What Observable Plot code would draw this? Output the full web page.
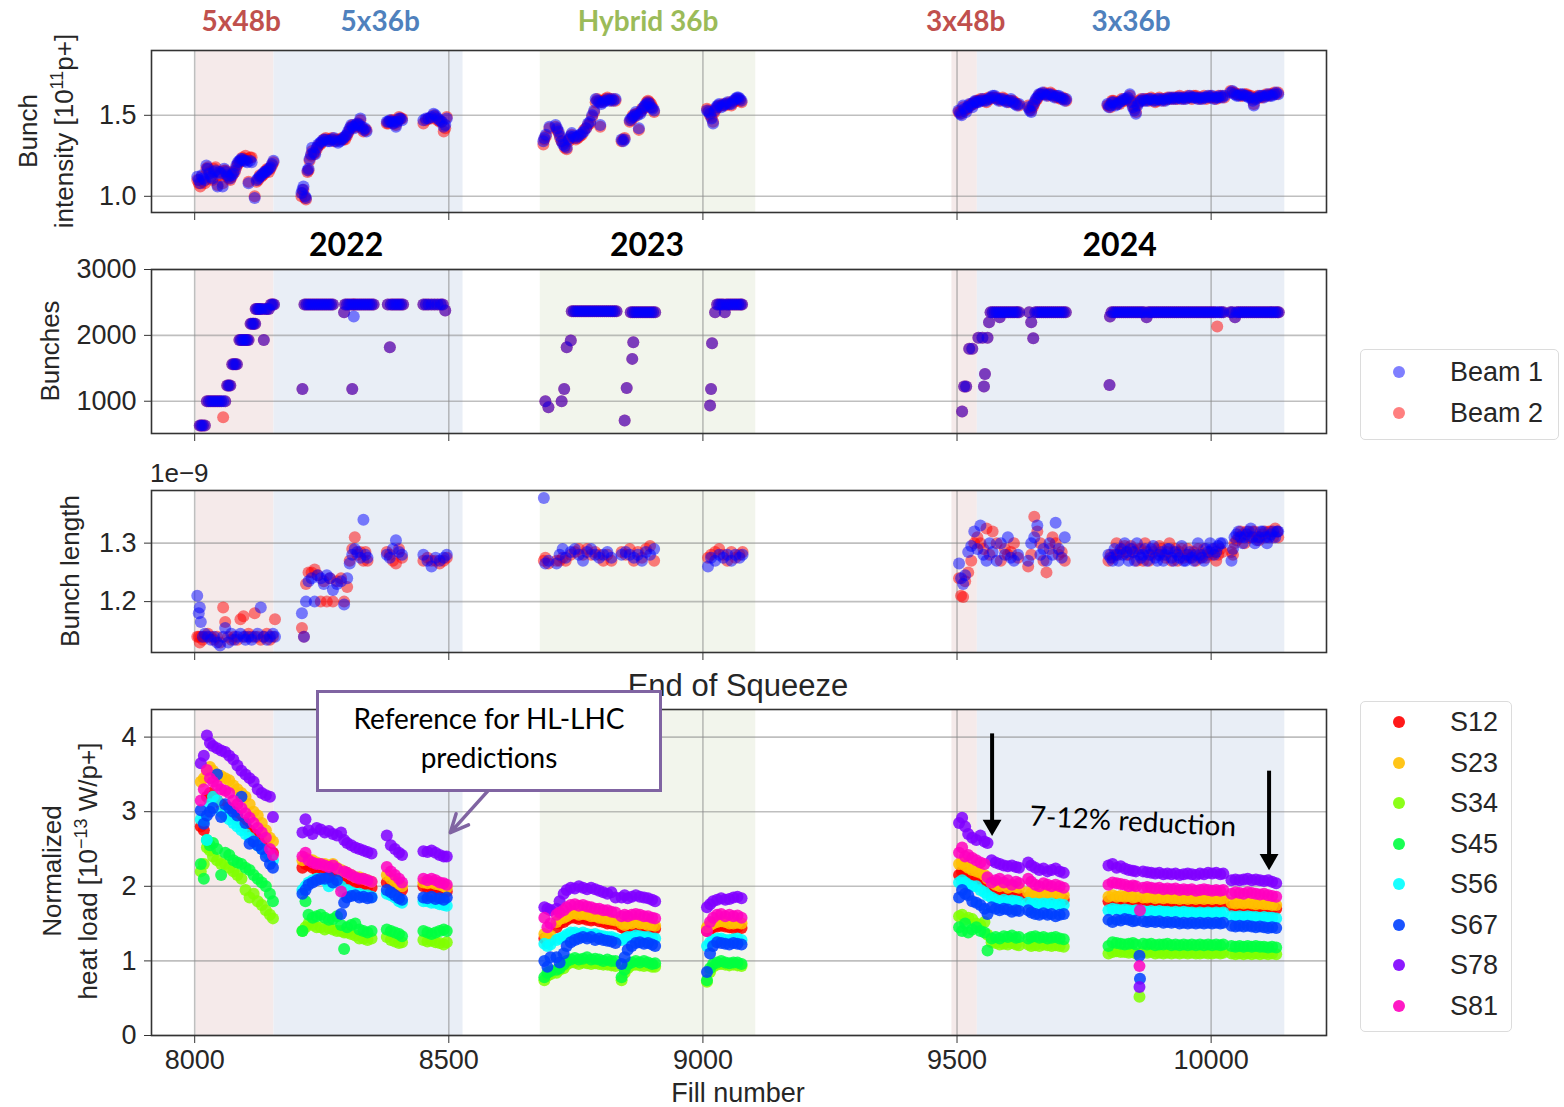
<!DOCTYPE html>
<html>
<head>
<meta charset="utf-8">
<script src="https://cdn.jsdelivr.net/npm/d3@7"></script>
<script src="https://cdn.jsdelivr.net/npm/@observablehq/plot@0.6"></script>
<style>
  body { margin: 0; background: #fff; }
  #fig { position: relative; width: 1564px; height: 1107px; overflow: hidden;
         font-family: "Liberation Sans", Arial, sans-serif; color: #262626; }
  .abs { position: absolute; white-space: nowrap; }
  .ylab { position: absolute; transform: translate(-50%, -50%) rotate(-90deg); white-space: nowrap;
          text-align: center; font-size: 26px; line-height: 36px; color: #262626; }
  .ylab sup { font-size: 18px; vertical-align: 10px; line-height: 0; }
  .cal { font-family: Lato, "Open Sans", sans-serif; }
  .legend { position: absolute; background: #fff; border: 1.5px solid #dcdcdc; border-radius: 5px; }
  .lg-dot { position: absolute; width: 12px; height: 12px; border-radius: 50%; transform: translate(-50%, -50%); }
  .lg-txt { position: absolute; transform: translateY(-50%); font-size: 27px; color: #262626; }
</style>
</head>
<body>
<div id="fig"></div>
<script>
// ---------- shared x axis ----------
const xDomain = [7915, 10227];
const xTicks = [8000, 8500, 9000, 9500, 10000];

// ---------- filling-scheme periods ----------
const spanKinds = ["5x48b", "5x36b", "Hybrid 36b", "3x48b", "3x36b"];
const spanStart = [8003, 8156, 8680, 9490, 9540];
const spanEnd   = [8156, 8528, 9104, 9540, 10145];

const years = ["2022", "2023", "2024"];

// ---------- bunch intensity [1e11 p+]: [fill, beam 1, beam 2] ----------
const intensityRows = [
  // 2022
  [8005,1.12,1.10],[8008,1.10,1.08],[8011,1.08,1.06],[8014,1.13,1.12],[8017,1.11,1.09],[8020,1.10,1.08],
  [8023,1.19,1.17],[8026,1.17,1.18],[8029,1.14,1.15],[8032,1.12,1.11],[8035,1.11,1.10],[8038,1.15,1.17],
  [8041,1.16,1.18],[8045,1.06,1.07],[8048,1.15,1.13],[8051,1.14,1.15],[8055,1.06,1.08],[8058,1.17,1.16],
  [8061,1.15,1.16],[8064,1.13,1.12],[8067,1.12,1.11],[8070,1.11,1.10],[8073,1.13,1.12],[8076,1.14,1.15],
  [8079,1.16,1.15],[8082,1.19,1.18],[8085,1.21,1.20],[8088,1.22,1.21],[8091,1.23,1.22],[8094,1.23,1.24],
  [8097,1.22,1.23],[8100,1.22,1.25],[8103,1.21,1.23],[8106,1.08,1.09],[8109,1.22,1.24],[8112,1.21,1.24],
  [8118,0.99,1.00],[8122,1.10,1.09],[8125,1.11,1.10],[8128,1.12,1.13],[8131,1.13,1.12],[8134,1.14,1.13],
  [8137,1.15,1.14],[8140,1.15,1.16],[8143,1.16,1.17],[8146,1.17,1.15],[8149,1.18,1.17],[8152,1.20,1.19],
  [8155,1.22,1.21],
  [8210,1.02,1.00],[8212,1.04,1.02],[8214,1.06,1.04],[8217,1.00,0.99],[8219,0.99,0.98],[8222,1.16,1.15],
  [8224,1.17,1.16],[8226,1.23,1.22],[8229,1.26,1.25],[8231,1.30,1.28],[8234,1.27,1.26],[8237,1.26,1.27],
  [8240,1.30,1.29],[8243,1.32,1.31],[8247,1.33,1.32],[8250,1.34,1.33],[8254,1.35,1.35],[8258,1.35,1.36],
  [8262,1.34,1.35],[8266,1.34,1.35],[8270,1.35,1.36],[8274,1.36,1.34],[8278,1.34,1.35],[8282,1.33,1.35],
  [8286,1.34,1.35],[8290,1.35,1.36],[8293,1.36,1.35],[8296,1.37,1.35],[8299,1.38,1.37],[8302,1.40,1.39],
  [8305,1.42,1.41],[8308,1.44,1.43],[8311,1.43,1.44],[8314,1.42,1.43],[8317,1.44,1.43],[8320,1.45,1.44],
  [8323,1.44,1.45],[8326,1.48,1.47],[8329,1.43,1.42],[8332,1.41,1.40],[8335,1.42,1.41],[8338,1.40,1.41],
  [8378,1.46,1.45],[8381,1.46,1.45],[8384,1.47,1.46],[8387,1.46,1.47],[8390,1.45,1.47],[8393,1.46,1.45],
  [8396,1.43,1.44],[8399,1.46,1.47],[8402,1.48,1.49],[8405,1.48,1.48],[8408,1.47,1.48],
  [8450,1.47,1.45],[8455,1.48,1.47],[8460,1.48,1.48],[8465,1.49,1.48],[8470,1.51,1.50],[8474,1.50,1.49],
  [8478,1.48,1.47],[8482,1.47,1.46],[8486,1.46,1.46],[8490,1.43,1.40],[8493,1.44,1.42],[8496,1.48,1.49],
  // 2023
  [8686,1.34,1.32],[8688,1.36,1.35],[8691,1.38,1.37],[8698,1.43,1.42],[8710,1.44,1.43],[8713,1.42,1.41],
  [8716,1.40,1.39],[8719,1.37,1.36],[8722,1.34,1.34],[8725,1.32,1.33],[8728,1.31,1.30],[8732,1.30,1.29],
  [8736,1.35,1.34],[8739,1.37,1.36],[8742,1.39,1.38],[8746,1.37,1.36],[8750,1.36,1.35],[8754,1.37,1.36],
  [8758,1.38,1.37],[8762,1.39,1.38],[8766,1.40,1.41],[8770,1.42,1.42],[8774,1.45,1.44],[8778,1.46,1.45],
  [8782,1.50,1.49],[8786,1.53,1.52],[8789,1.60,1.58],[8792,1.59,1.60],[8796,1.58,1.59],[8798,1.44,1.43],
  [8800,1.57,1.58],[8804,1.58,1.59],[8808,1.59,1.60],[8812,1.60,1.61],[8816,1.59,1.60],[8820,1.60,1.59],
  [8824,1.59,1.60],[8828,1.60,1.59],
  [8840,1.35,1.34],[8843,1.34,1.35],[8846,1.35,1.36],[8856,1.47,1.46],[8859,1.48,1.47],[8862,1.49,1.50],
  [8865,1.50,1.49],[8868,1.52,1.51],[8871,1.50,1.51],[8874,1.42,1.41],[8877,1.51,1.52],[8880,1.53,1.54],
  [8883,1.55,1.54],[8886,1.56,1.55],[8889,1.57,1.58],[8892,1.58,1.59],[8895,1.57,1.58],[8898,1.55,1.57],
  [8901,1.54,1.55],[8904,1.53,1.52],
  [9008,1.53,1.54],[9011,1.52,1.53],[9014,1.51,1.50],[9017,1.48,1.49],[9020,1.45,1.46],[9023,1.53,1.52],
  [9026,1.55,1.54],[9029,1.56,1.55],[9032,1.57,1.56],[9036,1.55,1.56],[9040,1.56,1.57],[9044,1.57,1.56],
  [9048,1.58,1.57],[9052,1.57,1.58],[9056,1.57,1.56],[9060,1.59,1.58],[9064,1.60,1.59],[9067,1.61,1.60],
  [9070,1.61,1.60],[9073,1.60,1.59],[9076,1.59,1.58],
  // 2024
  [9503,1.53,1.52],[9506,1.51,1.52],[9509,1.50,1.51],[9512,1.56,1.55],[9515,1.54,1.53],[9518,1.52,1.54],
  [9521,1.55,1.54],[9524,1.57,1.56],[9527,1.56,1.57],[9530,1.55,1.57],[9533,1.58,1.57],[9536,1.59,1.58],
  [9539,1.58,1.59],[9542,1.58,1.59],[9546,1.59,1.60],[9550,1.60,1.59],[9554,1.59,1.60],[9558,1.59,1.58],
  [9562,1.60,1.61],[9566,1.61,1.60],[9570,1.62,1.61],[9574,1.62,1.61],[9578,1.60,1.61],[9582,1.59,1.60],
  [9586,1.60,1.59],[9590,1.60,1.61],[9594,1.59,1.60],[9598,1.58,1.59],[9602,1.59,1.58],[9606,1.60,1.59],
  [9610,1.58,1.59],[9614,1.57,1.58],[9618,1.56,1.57],[9622,1.57,1.56],
  [9640,1.55,1.56],[9643,1.53,1.54],[9646,1.52,1.53],[9649,1.56,1.55],[9652,1.58,1.57],[9655,1.60,1.59],
  [9658,1.61,1.60],[9661,1.63,1.62],[9664,1.63,1.63],[9668,1.64,1.63],[9672,1.63,1.64],[9676,1.62,1.63],
  [9680,1.63,1.62],[9684,1.63,1.64],[9688,1.62,1.63],[9692,1.61,1.62],[9696,1.62,1.61],[9700,1.62,1.61],
  [9704,1.61,1.60],[9708,1.60,1.61],[9712,1.59,1.60],[9715,1.60,1.59],
  [9796,1.57,1.56],[9799,1.55,1.56],[9802,1.56,1.55],[9805,1.58,1.59],[9808,1.58,1.59],[9812,1.56,1.57],
  [9816,1.57,1.58],[9820,1.58,1.57],[9824,1.59,1.60],[9828,1.60,1.59],[9832,1.60,1.59],[9836,1.61,1.60],
  [9840,1.63,1.62],[9843,1.58,1.59],[9846,1.55,1.56],[9849,1.53,1.54],[9852,1.51,1.52],[9855,1.56,1.57],
  [9858,1.58,1.59],[9862,1.59,1.60],[9866,1.60,1.59],[9870,1.59,1.60],[9874,1.59,1.60],[9878,1.60,1.59],
  [9882,1.60,1.61],[9886,1.59,1.60],[9890,1.59,1.58],[9894,1.60,1.59],[9898,1.60,1.61],[9902,1.59,1.60],
  [9906,1.60,1.59],[9910,1.59,1.60],[9914,1.60,1.61],[9918,1.61,1.60],[9922,1.60,1.61],[9926,1.61,1.60],
  [9930,1.60,1.61],[9934,1.61,1.60],[9938,1.61,1.62],[9942,1.60,1.61],[9946,1.61,1.60],[9950,1.60,1.61],
  [9954,1.61,1.62],[9958,1.62,1.61],[9962,1.61,1.60],[9966,1.61,1.62],[9970,1.61,1.62],[9974,1.60,1.61],
  [9978,1.61,1.60],[9982,1.60,1.61],[9986,1.61,1.62],[9990,1.61,1.60],[9994,1.62,1.61],[9998,1.61,1.62],
  [10002,1.62,1.61],[10006,1.60,1.61],[10010,1.61,1.60],[10014,1.61,1.62],[10018,1.62,1.61],[10022,1.61,1.62],
  [10026,1.62,1.61],
  [10038,1.64,1.65],[10042,1.65,1.64],[10046,1.63,1.64],[10050,1.62,1.63],[10054,1.62,1.63],[10058,1.63,1.62],
  [10062,1.63,1.62],[10066,1.62,1.63],[10070,1.62,1.63],[10074,1.61,1.62],[10078,1.61,1.62],[10082,1.59,1.60],
  [10084,1.56,1.57],[10088,1.60,1.61],[10092,1.61,1.62],[10096,1.62,1.61],[10100,1.62,1.61],[10104,1.61,1.62],
  [10108,1.62,1.63],[10112,1.63,1.62],[10116,1.62,1.63],[10120,1.62,1.63],[10124,1.63,1.64],[10128,1.64,1.63],
  [10132,1.63,1.64]
];

// ---------- number of bunches: [fill, beam 1, beam 2] ----------
const bunchRows = [
  // 2022
  [8010,630,630],[8013,630,630],[8016,630,630],[8020,630,630],[8024,1000,1000],[8028,1000,1000],
  [8032,1000,1000],[8036,1000,1000],[8040,1000,1000],[8044,1000,1000],[8048,1000,1000],[8052,1000,1000],
  [8056,1000,757],[8060,1000,1000],[8064,1240,1240],[8067,1240,1240],[8070,1240,1240],[8074,1560,1560],
  [8077,1560,1560],[8080,1560,1560],[8083,1560,1560],[8088,1930,1930],[8091,1930,1930],[8094,1930,1930],
  [8097,1930,1930],[8100,1930,1930],[8103,1930,1930],[8106,1930,1930],[8110,2175,2175],[8113,2175,2175],
  [8116,2175,2175],[8119,2175,2175],[8120,2400,2400],[8123,2400,2400],[8126,2400,2400],[8129,2400,2400],
  [8132,2400,2400],[8136,1930,1930],[8138,2400,2400],[8142,2400,2400],[8146,2400,2400],[8150,2470,2470],
  [8153,2470,2470],[8156,2470,2470],
  [8212,1187,1187],[8216,2468,2468],[8220,2468,2468],[8224,2468,2468],[8228,2468,2468],[8232,2468,2468],
  [8236,2468,2468],[8240,2468,2468],[8244,2468,2468],[8248,2468,2468],[8252,2468,2468],[8256,2468,2468],
  [8260,2468,2468],[8264,2468,2468],[8268,2468,2468],[8272,2468,2468],
  [8294,2352,2352],[8296,2468,2468],[8300,2468,2468],[8304,2468,2468],[8308,2468,2468],[8310,1187,1187],
  [8312,2468,2468],[8313,2286,2468],[8316,2468,2468],[8320,2468,2468],[8324,2468,2468],[8328,2468,2468],
  [8332,2468,2468],[8336,2468,2468],[8340,2468,2468],[8344,2468,2468],[8348,2468,2468],[8352,2468,2468],
  [8380,2468,2468],[8384,1820,1820],[8386,2468,2468],[8390,2468,2468],[8394,2468,2468],[8398,2468,2468],
  [8402,2468,2468],[8406,2468,2468],[8410,2468,2468],
  [8450,2468,2468],[8455,2468,2468],[8460,2468,2468],[8466,2468,2468],[8472,2468,2468],[8478,2468,2468],
  [8484,2468,2468],[8488,2468,2468],[8493,2377,2377],
  // 2023
  [8690,1000,1000],[8696,910,910],[8722,1000,1000],[8727,1187,1187],[8732,1820,1820],[8740,1921,1921],
  [8742,2367,2367],[8746,2367,2367],[8750,2367,2367],[8754,2367,2367],[8758,2367,2367],[8762,2367,2367],
  [8766,2367,2367],[8770,2367,2367],[8774,2367,2367],[8778,2367,2367],[8782,2367,2367],[8786,2367,2367],
  [8790,2367,2367],[8794,2367,2367],[8798,2367,2367],[8802,2367,2367],[8806,2367,2367],[8810,2367,2367],
  [8814,2367,2367],[8818,2367,2367],[8822,2367,2367],[8826,2367,2367],[8830,2367,2367],
  [8846,706,706],[8850,1202,1202],[8858,2352,2352],[8861,1643,1643],[8863,1896,1896],[8862,2352,2352],
  [8866,2352,2352],[8870,2352,2352],[8874,2352,2352],[8878,2352,2352],[8882,2352,2352],[8886,2352,2352],
  [8890,2352,2352],[8894,2352,2352],[8898,2352,2352],[8902,2352,2352],[8906,2352,2352],
  [9014,934,934],[9016,1187,1187],[9018,1881,1881],[9024,2352,2352],[9028,2468,2468],[9032,2468,2468],
  [9036,2468,2468],[9040,2468,2468],[9043,2352,2352],[9046,2468,2468],[9050,2468,2468],[9054,2468,2468],
  [9058,2468,2468],[9062,2468,2468],[9066,2468,2468],[9070,2468,2468],[9074,2468,2468],[9077,2468,2468],
  // 2024
  [9510,843,843],[9514,1223,1223],[9518,1223,1223],[9524,1795,1795],[9530,1795,1795],[9542,1962,1962],
  [9550,1962,1962],[9553,1223,1223],[9555,1415,1415],[9560,1962,1962],[9563,2200,2200],[9566,2352,2352],
  [9570,2352,2352],[9574,2352,2352],[9578,2352,2352],[9582,2352,2352],[9584,2276,2276],[9586,2352,2352],
  [9590,2352,2352],[9594,2352,2352],[9598,2352,2352],[9602,2352,2352],[9606,2352,2352],[9610,2352,2352],
  [9614,2352,2352],[9618,2352,2352],[9622,2352,2352],
  [9642,2352,2352],[9646,2200,2200],[9650,1957,1957],[9654,2352,2352],[9658,2352,2352],[9662,2352,2352],
  [9666,2352,2352],[9670,2352,2352],[9674,2352,2352],[9678,2352,2352],[9682,2352,2352],[9686,2352,2352],
  [9690,2352,2352],[9694,2352,2352],[9698,2352,2352],[9702,2352,2352],[9706,2352,2352],[9710,2352,2352],
  [9714,2352,2352],
  [9800,1248,1248],[9801,2286,2286],[9804,2352,2352],[9808,2352,2352],[9812,2352,2352],[9816,2352,2352],
  [9820,2352,2352],[9824,2352,2352],[9828,2352,2352],[9832,2352,2352],[9836,2352,2352],[9840,2352,2352],
  [9844,2352,2352],[9848,2352,2352],[9852,2352,2352],[9856,2352,2352],[9860,2352,2352],[9864,2352,2352],
  [9868,2352,2352],[9873,2276,2276],[9876,2352,2352],[9880,2352,2352],[9884,2352,2352],[9888,2352,2352],
  [9892,2352,2352],[9896,2352,2352],[9900,2352,2352],[9904,2352,2352],[9908,2352,2352],[9912,2352,2352],
  [9916,2352,2352],[9920,2352,2352],[9924,2352,2352],[9928,2352,2352],[9932,2352,2352],[9936,2352,2352],
  [9940,2352,2352],[9944,2352,2352],[9948,2352,2352],[9952,2352,2352],[9956,2352,2352],[9960,2352,2352],
  [9964,2352,2352],[9968,2352,2352],[9972,2352,2352],[9976,2352,2352],[9980,2352,2352],[9984,2352,2352],
  [9988,2352,2352],[9992,2352,2352],[9996,2352,2352],[10000,2352,2352],[10004,2352,2352],[10008,2352,2352],
  [10012,2352,2134],[10016,2352,2352],[10020,2352,2352],[10024,2352,2352],
  [10038,2352,2352],[10042,2352,2352],[10047,2276,2276],[10050,2352,2352],[10054,2352,2352],[10058,2352,2352],
  [10062,2352,2352],[10066,2352,2352],[10070,2352,2352],[10074,2352,2352],[10078,2352,2352],[10082,2352,2352],
  [10086,2352,2352],[10090,2352,2352],[10094,2352,2352],[10098,2352,2352],[10102,2352,2352],[10106,2352,2352],
  [10110,2352,2352],[10114,2352,2352],[10118,2352,2352],[10122,2352,2352],[10126,2352,2352],[10130,2352,2352],
  [10133,2352,2352]
];

// ---------- bunch length [1e-9 s]: [fill, beam 1, beam 2] ----------
const lengthRows = [
  [8005,1.21,1.14],[8008,1.18,1.14],[8010,1.19,1.13],[8012,1.165,1.14],[8016,1.14,1.135],[8020,1.145,1.14],
  [8026,1.14,1.145],[8032,1.135,1.14],[8038,1.14,1.135],[8044,1.13,1.14],[8050,1.125,1.13],[8056,1.14,1.19],
  [8060,1.155,1.165],[8066,1.13,1.14],[8072,1.145,1.135],[8078,1.135,1.14],[8084,1.14,1.135],[8090,1.145,1.17],
  [8096,1.14,1.175],[8100,1.135,1.14],[8106,1.14,1.145],[8112,1.135,1.14],[8118,1.14,1.18],[8124,1.145,1.14],
  [8130,1.19,1.135],[8136,1.14,1.14],[8142,1.135,1.145],[8148,1.14,1.135],[8154,1.145,1.14],[8158,1.14,1.17],
  [8211,1.18,1.155],[8215,1.14,1.14],[8219,1.20,1.23],[8224,1.235,1.25],[8230,1.24,1.25],[8236,1.20,1.255],
  [8242,1.245,1.245],[8248,1.24,1.20],[8254,1.23,1.235],[8260,1.245,1.20],[8266,1.24,1.24],[8272,1.22,1.20],
  [8280,1.23,1.235],[8288,1.235,1.24],[8294,1.195,1.20],[8300,1.24,1.225],[8305,1.265,1.27],[8310,1.28,1.29],
  [8315,1.29,1.31],[8320,1.285,1.28],[8326,1.275,1.285],[8332,1.34,1.27],[8336,1.28,1.285],[8340,1.275,1.27],
  [8378,1.28,1.285],[8384,1.275,1.28],[8390,1.29,1.27],[8396,1.305,1.265],[8402,1.285,1.29],[8408,1.28,1.275],
  [8450,1.28,1.27],[8458,1.27,1.275],[8466,1.26,1.27],[8474,1.275,1.27],[8482,1.27,1.265],[8490,1.275,1.27],
  [8496,1.28,1.275],
  [8687,1.377,1.27],[8690,1.265,1.275],[8696,1.27,1.265],[8712,1.265,1.27],[8718,1.28,1.27],[8724,1.29,1.275],
  [8730,1.275,1.27],[8740,1.285,1.28],[8748,1.29,1.285],[8756,1.28,1.29],[8764,1.27,1.28],[8772,1.285,1.29],
  [8780,1.29,1.28],[8788,1.28,1.285],[8796,1.275,1.28],[8804,1.28,1.27],[8812,1.285,1.28],[8820,1.275,1.27],
  [8840,1.28,1.285],[8848,1.285,1.28],[8856,1.28,1.29],[8864,1.275,1.27],[8872,1.28,1.285],[8880,1.27,1.275],
  [8888,1.285,1.29],[8896,1.28,1.295],[8904,1.29,1.27],
  [9010,1.26,1.275],[9016,1.275,1.28],[9024,1.27,1.285],[9032,1.28,1.29],[9040,1.275,1.28],[9048,1.28,1.27],
  [9056,1.27,1.285],[9064,1.28,1.275],[9072,1.275,1.28],[9078,1.28,1.285],
  [9504,1.265,1.24],[9508,1.24,1.21],[9512,1.23,1.208],[9516,1.245,1.235],[9522,1.285,1.25],[9528,1.295,1.27],
  [9534,1.32,1.30],[9540,1.29,1.31],[9546,1.33,1.30],[9552,1.28,1.29],[9558,1.27,1.325],[9564,1.30,1.28],
  [9570,1.285,1.32],[9578,1.27,1.30],[9586,1.30,1.27],[9594,1.28,1.29],[9600,1.31,1.28],[9606,1.275,1.285],
  [9612,1.27,1.30],[9620,1.28,1.275],
  [9640,1.27,1.26],[9646,1.30,1.28],[9652,1.31,1.345],[9658,1.33,1.32],[9664,1.28,1.30],[9670,1.29,1.27],
  [9676,1.27,1.25],[9682,1.30,1.29],[9688,1.28,1.31],[9694,1.335,1.30],[9700,1.29,1.28],[9706,1.275,1.285],
  [9712,1.31,1.27],
  [9798,1.28,1.27],[9802,1.275,1.28],[9806,1.27,1.275],[9810,1.29,1.28],[9814,1.28,1.30],[9818,1.27,1.28],
  [9822,1.29,1.285],[9826,1.28,1.29],[9830,1.30,1.295],[9834,1.285,1.28],[9838,1.27,1.28],[9842,1.29,1.295],
  [9846,1.285,1.29],[9850,1.27,1.285],[9854,1.30,1.27],[9858,1.28,1.29],[9862,1.275,1.29],[9866,1.28,1.27],
  [9870,1.29,1.30],[9874,1.27,1.285],[9878,1.28,1.27],[9882,1.29,1.28],[9886,1.295,1.285],[9890,1.275,1.29],
  [9894,1.27,1.28],[9898,1.28,1.295],[9902,1.285,1.29],[9906,1.27,1.28],[9910,1.28,1.275],[9914,1.29,1.285],
  [9918,1.29,1.30],[9922,1.275,1.27],[9926,1.27,1.285],[9930,1.285,1.29],[9934,1.28,1.27],[9938,1.275,1.285],
  [9942,1.295,1.29],[9946,1.27,1.275],[9950,1.27,1.28],[9954,1.28,1.29],[9958,1.285,1.275],[9962,1.275,1.28],
  [9966,1.27,1.285],[9970,1.28,1.27],[9974,1.30,1.29],[9978,1.28,1.275],[9982,1.275,1.28],[9986,1.27,1.29],
  [9990,1.29,1.275],[9994,1.285,1.28],[9998,1.30,1.285],[10002,1.29,1.28],[10006,1.28,1.29],[10010,1.285,1.27],
  [10014,1.295,1.28],[10018,1.30,1.29],[10022,1.30,1.285],
  [10040,1.27,1.285],[10043,1.29,1.28],[10046,1.31,1.30],[10050,1.315,1.305],[10054,1.32,1.31],[10058,1.31,1.32],
  [10062,1.30,1.315],[10066,1.31,1.30],[10070,1.315,1.32],[10074,1.32,1.31],[10078,1.325,1.31],[10082,1.31,1.32],
  [10086,1.30,1.32],[10090,1.305,1.31],[10094,1.31,1.305],[10098,1.32,1.31],[10102,1.32,1.315],[10106,1.31,1.32],
  [10110,1.30,1.31],[10114,1.31,1.32],[10118,1.315,1.32],[10122,1.32,1.31],[10126,1.31,1.325],[10130,1.32,1.32],
  [10132,1.32,1.31]
];

// ---------- normalized heat load [1e-13 W/p+] per arc sector ----------
const sectors = ["S12", "S23", "S34", "S45", "S56", "S67", "S78", "S81"];
const sectorColors = ["#ff0000", "#ffbf00", "#80ff00", "#00ff40", "#00ffff", "#0040ff", "#8000ff", "#ff00bf"];
// [fill, S12, S23, S34, S45, S56, S67, S78, S81]
const heatRows = [
  [8012,2.80,3.40,2.20,2.30,2.90,3.02,3.65,3.15],[8018,2.75,3.45,2.30,2.10,2.88,2.84,3.75,3.30],
  [8024,3.20,3.55,2.52,2.62,2.62,2.95,4.02,3.56],[8030,3.25,3.60,2.48,2.55,3.10,3.00,3.92,3.45],
  [8036,3.20,3.55,2.40,2.58,3.20,3.05,3.88,3.40],[8044,3.15,3.50,2.35,2.50,3.15,3.50,3.85,3.35],
  [8052,3.10,3.48,2.30,2.15,3.00,2.93,3.82,3.30],[8060,3.05,3.45,2.30,2.45,2.95,3.10,3.80,3.28],
  [8068,3.00,3.42,2.25,2.42,2.90,3.05,3.75,3.25],[8076,2.95,3.35,2.20,2.35,2.85,3.00,3.70,3.15],
  [8084,2.90,3.30,2.15,2.32,2.80,2.95,3.62,3.10],[8092,2.85,3.25,2.10,2.30,2.75,3.20,3.55,3.05],
  [8100,2.80,3.20,1.95,2.25,2.70,2.85,3.50,2.98],[8108,2.75,3.10,1.85,2.22,2.65,2.57,3.45,2.92],
  [8116,2.70,3.00,1.90,2.15,2.60,2.60,3.40,2.85],[8124,2.65,2.95,1.80,2.10,2.55,2.55,3.30,2.78],
  [8132,2.60,2.85,1.75,2.05,2.50,2.50,3.25,2.72],[8140,2.55,2.75,1.68,2.00,2.45,2.40,3.22,2.65],
  [8148,2.48,2.65,1.62,1.90,2.40,2.30,3.20,2.50],[8154,2.45,2.60,1.57,1.80,2.35,2.25,2.93,2.42],
  [8212,2.25,2.35,1.40,1.40,1.95,1.90,2.72,2.40],[8218,2.30,2.38,1.45,1.80,2.00,1.95,2.90,2.45],
  [8224,2.28,2.36,1.50,1.62,2.05,2.02,2.75,2.35],[8232,2.25,2.35,1.48,1.58,2.08,2.05,2.70,2.32],
  [8240,2.22,2.32,1.45,1.60,2.10,2.08,2.78,2.30],[8248,2.20,2.30,1.45,1.62,2.10,2.10,2.76,2.30],
  [8256,2.20,2.30,1.42,1.58,2.08,2.10,2.72,2.28],[8264,2.18,2.28,1.44,1.55,2.00,2.12,2.74,2.26],
  [8272,2.20,2.30,1.42,1.56,2.05,2.05,2.70,2.28],[8280,2.15,2.25,1.40,1.60,2.05,2.08,2.68,2.24],
  [8288,2.05,2.22,1.40,1.48,2.00,1.63,2.72,1.93],[8294,2.08,2.20,1.38,1.16,1.90,1.78,2.62,2.20],
  [8300,2.10,2.18,1.38,1.45,1.95,1.85,2.58,2.18],[8308,2.08,2.15,1.36,1.48,1.92,1.87,2.55,2.15],
  [8316,2.05,2.12,1.34,1.50,1.90,1.88,2.52,2.12],[8324,2.05,2.12,1.30,1.42,1.90,1.85,2.50,2.10],
  [8332,2.02,2.10,1.30,1.40,1.88,1.86,2.48,2.10],[8340,2.00,2.08,1.28,1.38,1.88,1.84,2.46,2.08],
  [8348,1.98,2.06,1.30,1.40,1.86,1.85,2.44,2.06],
  [8378,2.05,2.15,1.32,1.42,1.90,1.95,2.68,2.26],[8386,2.02,2.10,1.28,1.40,1.88,1.92,2.55,2.20],
  [8394,2.00,2.06,1.26,1.38,1.85,1.88,2.50,2.15],[8402,1.98,2.03,1.24,1.36,1.80,1.84,2.45,2.10],
  [8408,1.95,2.00,1.25,1.33,1.78,1.82,2.42,2.05],
  [8450,2.00,2.05,1.28,1.40,1.80,1.85,2.47,2.10],[8458,1.98,2.04,1.26,1.38,1.80,1.84,2.46,2.08],
  [8466,1.98,2.05,1.27,1.36,1.78,1.86,2.48,2.10],[8474,1.97,2.03,1.25,1.38,1.78,1.83,2.45,2.08],
  [8482,1.96,2.02,1.24,1.40,1.76,1.84,2.42,2.05],[8490,1.95,2.00,1.22,1.42,1.75,1.82,2.40,2.04],
  [8496,1.93,1.98,1.25,1.40,1.74,1.85,2.40,2.02],
  [8688,1.30,1.36,0.74,0.78,1.23,1.00,1.72,1.58],[8694,1.25,1.32,0.80,0.84,1.20,0.92,1.70,1.45],
  [8700,1.28,1.34,0.82,0.86,1.22,1.05,1.68,1.50],[8712,1.45,1.52,0.84,0.88,1.28,1.05,1.70,1.62],
  [8718,1.50,1.56,0.88,0.90,1.30,0.98,1.80,1.65],[8726,1.52,1.58,0.90,0.95,1.32,1.10,1.90,1.68],
  [8732,1.55,1.60,0.95,1.00,1.35,1.20,1.95,1.72],[8740,1.58,1.63,0.98,1.02,1.38,1.25,1.98,1.75],
  [8748,1.58,1.64,0.98,1.04,1.38,1.28,1.97,1.76],[8756,1.56,1.62,0.96,1.02,1.36,1.30,2.00,1.74],
  [8764,1.57,1.63,0.98,1.03,1.38,1.32,1.98,1.75],[8772,1.55,1.62,0.97,1.05,1.36,1.30,1.96,1.73],
  [8780,1.54,1.60,0.96,1.02,1.35,1.32,1.98,1.72],[8788,1.55,1.60,0.97,1.03,1.36,1.28,1.96,1.70],
  [8796,1.53,1.58,0.96,1.02,1.34,1.30,1.94,1.70],[8804,1.52,1.57,0.95,1.00,1.33,1.28,1.92,1.68],
  [8812,1.50,1.56,0.95,1.02,1.32,1.27,1.90,1.68],[8820,1.50,1.55,0.94,1.00,1.32,1.26,1.92,1.66],
  [8828,1.49,1.54,0.93,1.00,1.30,1.24,1.85,1.65],
  [8840,1.45,1.50,0.74,0.78,1.28,0.96,1.85,1.60],[8846,1.43,1.48,0.84,0.88,1.30,1.05,1.88,1.62],
  [8852,1.44,1.50,0.90,0.95,1.32,1.15,1.84,1.60],[8860,1.45,1.50,0.94,0.98,1.32,1.20,1.86,1.62],
  [8868,1.46,1.52,0.95,1.00,1.34,1.24,1.88,1.63],[8876,1.45,1.50,0.94,0.98,1.33,1.25,1.86,1.62],
  [8884,1.44,1.50,0.93,1.00,1.32,1.23,1.85,1.60],[8892,1.43,1.48,0.94,0.98,1.32,1.24,1.84,1.60],
  [8900,1.42,1.48,0.92,0.96,1.30,1.22,1.82,1.58],[8906,1.43,1.47,0.92,0.97,1.30,1.20,1.80,1.57],
  [9008,1.40,1.45,0.72,0.74,1.20,0.85,1.72,1.40],[9014,1.42,1.48,0.85,0.90,1.25,1.10,1.76,1.52],
  [9020,1.45,1.50,0.92,0.96,1.28,1.20,1.80,1.58],[9028,1.46,1.52,0.95,0.98,1.30,1.25,1.82,1.62],
  [9036,1.47,1.53,0.96,1.00,1.30,1.24,1.84,1.63],[9044,1.46,1.52,0.95,0.98,1.28,1.23,1.82,1.60],
  [9052,1.45,1.50,0.94,0.97,1.28,1.22,1.83,1.62],[9060,1.44,1.50,0.95,0.98,1.29,1.24,1.85,1.60],
  [9068,1.45,1.51,0.94,0.98,1.30,1.23,1.86,1.61],[9076,1.44,1.50,0.93,0.96,1.28,1.22,1.84,1.58],
  [9504,2.15,2.30,1.60,1.45,2.05,1.85,2.85,2.45],[9510,2.20,2.32,1.62,1.40,2.08,1.95,2.92,2.52],
  [9516,2.18,2.28,1.55,1.50,2.05,1.90,2.80,2.40],[9522,2.15,2.25,1.58,1.38,2.02,1.88,2.70,2.42],
  [9530,2.12,2.22,1.56,1.42,2.00,1.80,2.65,2.38],[9538,2.10,2.20,1.50,1.45,2.00,1.78,2.62,2.35],
  [9546,2.08,2.18,1.48,1.40,1.95,1.75,2.68,2.32],[9554,2.05,2.15,1.52,1.38,1.92,1.70,2.60,2.30],
  [9560,2.00,2.10,1.35,1.14,1.88,1.63,2.58,2.12],[9568,1.95,2.05,1.25,1.30,1.85,1.72,2.35,2.05],
  [9576,1.92,2.02,1.24,1.32,1.82,1.70,2.32,2.08],[9584,1.90,2.00,1.22,1.30,1.80,1.68,2.30,2.10],
  [9592,1.92,2.02,1.23,1.33,1.82,1.70,2.28,2.05],[9600,1.88,1.98,1.22,1.32,1.80,1.69,2.27,2.08],
  [9608,1.90,2.00,1.24,1.34,1.81,1.66,2.28,2.02],[9616,1.89,1.99,1.22,1.31,1.80,1.68,2.26,2.06],
  [9622,1.88,1.98,1.21,1.32,1.79,1.67,2.25,2.04],
  [9640,1.85,1.92,1.22,1.30,1.78,1.68,2.32,2.10],[9646,1.84,1.90,1.20,1.32,1.76,1.65,2.28,2.06],
  [9654,1.83,1.90,1.21,1.33,1.77,1.63,2.25,2.02],[9662,1.82,1.89,1.20,1.31,1.76,1.62,2.22,2.00],
  [9670,1.83,1.90,1.22,1.32,1.77,1.64,2.24,2.04],[9678,1.82,1.90,1.21,1.30,1.76,1.62,2.20,2.02],
  [9686,1.83,1.91,1.20,1.31,1.77,1.63,2.22,2.00],[9694,1.82,1.89,1.21,1.32,1.75,1.60,2.24,2.02],
  [9702,1.83,1.90,1.20,1.30,1.76,1.62,2.20,2.00],[9710,1.82,1.88,1.19,1.29,1.75,1.63,2.18,1.98],
  [9798,1.80,1.86,1.10,1.20,1.68,1.55,2.28,2.02],[9806,1.82,1.88,1.12,1.25,1.70,1.52,2.30,2.05],
  [9814,1.81,1.86,1.13,1.24,1.69,1.55,2.25,2.04],[9822,1.80,1.87,1.12,1.23,1.68,1.54,2.27,2.03],
  [9830,1.81,1.86,1.12,1.22,1.69,1.56,2.24,2.02],[9838,1.82,1.87,1.11,1.23,1.68,1.55,2.22,2.00],
  [9846,1.80,1.85,1.12,1.24,1.67,1.53,2.21,2.01],[9852,1.81,1.86,1.10,1.22,1.68,1.54,2.20,2.00],
  [9859,null,null,0.52,null,null,1.07,0.65,0.93],[9860,null,null,null,null,null,0.76,null,1.68],
  [9866,1.80,1.85,1.12,1.23,1.67,1.53,2.20,1.98],[9874,1.79,1.85,1.11,1.22,1.66,1.52,2.19,1.99],
  [9882,1.80,1.86,1.12,1.23,1.67,1.53,2.18,1.98],[9890,1.79,1.84,1.10,1.21,1.66,1.52,2.17,1.97],
  [9898,1.80,1.85,1.11,1.22,1.67,1.53,2.18,1.98],[9906,1.78,1.84,1.10,1.22,1.66,1.51,2.16,1.96],
  [9914,1.79,1.85,1.11,1.23,1.66,1.52,2.17,1.97],[9922,1.78,1.84,1.10,1.21,1.65,1.51,2.16,1.96],
  [9930,1.79,1.84,1.11,1.22,1.66,1.52,2.17,1.97],[9938,1.78,1.83,1.10,1.21,1.65,1.50,2.15,1.95],
  [9946,1.79,1.84,1.11,1.22,1.66,1.51,2.16,1.96],[9954,1.78,1.83,1.10,1.21,1.65,1.50,2.17,1.95],
  [9962,1.78,1.84,1.11,1.22,1.65,1.51,2.16,1.96],[9970,1.77,1.83,1.10,1.21,1.64,1.50,2.15,1.94],
  [9978,1.78,1.84,1.10,1.22,1.65,1.51,2.17,1.95],[9986,1.77,1.83,1.11,1.21,1.64,1.50,2.16,1.96],
  [9994,1.78,1.84,1.10,1.22,1.65,1.51,2.18,1.95],[10002,1.77,1.83,1.10,1.21,1.64,1.50,2.17,1.94],
  [10010,1.78,1.84,1.11,1.22,1.65,1.51,2.18,1.95],[10018,1.77,1.83,1.10,1.21,1.64,1.50,2.16,1.94],
  [10024,1.78,1.84,1.11,1.22,1.65,1.51,2.17,1.95],
  [10040,1.73,1.78,1.10,1.20,1.60,1.47,2.08,1.90],[10048,1.72,1.77,1.09,1.19,1.59,1.46,2.09,1.92],
  [10056,1.73,1.78,1.10,1.20,1.60,1.47,2.08,1.91],[10064,1.72,1.77,1.09,1.19,1.59,1.46,2.09,1.90],
  [10072,1.73,1.78,1.10,1.20,1.60,1.47,2.10,1.92],[10080,1.72,1.77,1.09,1.19,1.59,1.46,2.08,1.91],
  [10088,1.72,1.76,1.10,1.20,1.59,1.45,2.09,1.90],[10096,1.71,1.77,1.09,1.19,1.58,1.46,2.08,1.89],
  [10104,1.72,1.76,1.10,1.19,1.59,1.45,2.07,1.90],[10112,1.71,1.76,1.09,1.18,1.58,1.44,2.08,1.88],
  [10120,1.70,1.75,1.10,1.19,1.58,1.45,2.06,1.87],[10128,1.70,1.75,1.09,1.18,1.57,1.44,2.04,1.86]
];

// ---------- styling ----------
const W = 1564;
const FRAME_LEFT = 151, FRAME_RIGHT = 1326;
const shade = {"5x48b": "#f5eaea", "5x36b": "#e9eef6", "Hybrid 36b": "#f2f5ec", "3x48b": "#f5eaea", "3x36b": "#e9eef6"};
const labelInk = {"5x48b": "#c0504d", "5x36b": "#4f81bd", "Hybrid 36b": "#9bbb59", "3x48b": "#c0504d", "3x36b": "#4f81bd"};
// horizontal offset of each scheme name from the middle of its period, in fills
const labelNudge = {"5x48b": 12, "5x36b": 23, "Hybrid 36b": 0, "3x48b": 2, "3x36b": 0};
const BEAM1 = "#0000ff", BEAM2 = "#ff0000";
const spans = spanKinds.map((k, i) => ({kind: k, start: spanStart[i], end: spanEnd[i]}));

const fig = document.getElementById("fig");

function addPanel({top, marginTop, innerHeight, marginBottom, yDomain, yTicks, yFormat, marks, showXLabels = false, extra = []}) {
  const svg = Plot.plot({
    width: W,
    height: marginTop + innerHeight + marginBottom,
    marginLeft: FRAME_LEFT, marginRight: W - FRAME_RIGHT, marginTop, marginBottom,
    style: {background: "transparent", overflow: "visible", fontFamily: "Liberation Sans, Arial, sans-serif", fontSize: "27px", color: "#262626"},
    x: {domain: xDomain},
    y: {domain: yDomain},
    color: {domain: sectors, range: sectorColors},
    marks: [
      Plot.rect(spans, {x1: "start", x2: "end", y1: () => yDomain[0], y2: () => yDomain[1], fill: d => shade[d.kind]}),
      Plot.gridX(xTicks, {stroke: "#8a8a8a", strokeOpacity: 0.55, strokeWidth: 1.6}),
      Plot.gridY(yTicks, {stroke: "#8a8a8a", strokeOpacity: 0.55, strokeWidth: 1.6}),
      ...marks,
      Plot.frame({stroke: "#333", strokeWidth: 1.6}),
      Plot.axisY(yTicks, {tickSize: 7, tickPadding: 8, tickFormat: yFormat, label: null, fontSize: 27, stroke: "#333"}),
      Plot.axisX(xTicks, {tickSize: 8, tickPadding: 6, tickFormat: showXLabels ? d => String(d) : () => "", label: null, fontSize: 27, stroke: "#333"}),
      ...extra
    ]
  });
  svg.style.position = "absolute";
  svg.style.left = "0px";
  svg.style.top = top + "px";
  fig.appendChild(svg);
}

const beamDots = rows => [
  Plot.dot(rows, {x: d => d[0], y: d => d[2], r: 6, fill: BEAM2, fillOpacity: 0.5}),
  Plot.dot(rows, {x: d => d[0], y: d => d[1], r: 6, fill: BEAM1, fillOpacity: 0.5})
];

// Panel 1: bunch intensity, with the filling-scheme names above
addPanel({
  top: 0, marginTop: 50, innerHeight: 162, marginBottom: 30,
  yDomain: [0.90, 1.90], yTicks: [1.0, 1.5], yFormat: d3.format(".1f"),
  marks: beamDots(intensityRows),
  extra: [
    Plot.text(spans, {x: d => (d.start + d.end) / 2 + labelNudge[d.kind], text: "kind",
      frameAnchor: "top", lineAnchor: "middle", dy: -28,
      fill: d => labelInk[d.kind], fontSize: 28, fontWeight: "bold", fontFamily: "Lato, Open Sans, sans-serif"})
  ]
});

// Panel 2: number of bunches, with the run years above
const yearAt = [8298, 8890, 9820];
addPanel({
  top: 225, marginTop: 44, innerHeight: 164, marginBottom: 20,
  yDomain: [510, 3000], yTicks: [1000, 2000, 3000], yFormat: d => String(d),
  marks: beamDots(bunchRows),
  extra: [
    Plot.text(years, {x: (d, i) => yearAt[i], text: d => d, frameAnchor: "top", lineAnchor: "middle", dy: -24,
      fill: "#000", fontSize: 32, fontWeight: "bold", fontFamily: "Lato, Open Sans, sans-serif"})
  ]
});

// Panel 3: bunch length (units of 1e-9 s)
addPanel({
  top: 452, marginTop: 38, innerHeight: 162, marginBottom: 20,
  yDomain: [1.113, 1.390], yTicks: [1.2, 1.3], yFormat: d3.format(".1f"),
  marks: beamDots(lengthRows)
});

// Panel 4: normalized heat load per sector at end of squeeze
const heatPoints = sectors.flatMap((s, i) =>
  heatRows.filter(r => r[i + 1] != null).map(r => ({fill: r[0], load: r[i + 1], sector: s})));
addPanel({
  top: 660, marginTop: 49, innerHeight: 326, marginBottom: 72,
  yDomain: [0, 4.37], yTicks: [0, 1, 2, 3, 4], yFormat: d => String(d),
  showXLabels: true,
  marks: [Plot.dot(heatPoints, {x: "fill", y: "load", r: 6, fill: "sector", fillOpacity: 0.85})],
  extra: [
    // reduction markers
    Plot.link([[9569, 4.05, 2.86], [10114, 3.55, 2.40]], {x1: d => d[0], x2: d => d[0], y1: d => d[1], y2: d => d[2], stroke: "#000", strokeWidth: 4}),
    Plot.dot([[9569, 2.82], [10114, 2.36]], {x: d => d[0], y: d => d[1], symbol: "triangle", rotate: 180, r: 7, fill: "#000"}),
    // pointer from the HL-LHC reference callout
    Plot.arrow([[8581, 3.31, 8503, 2.72]], {x1: d => d[0], y1: d => d[1], x2: d => d[2], y2: d => d[3],
      stroke: "#8064a2", strokeWidth: 3.5, headLength: 16, headAngle: 50})
  ]
});

// ---------- text around the panels ----------
function html(s) { const t = document.createElement("template"); t.innerHTML = s.trim(); fig.appendChild(t.content.firstChild); }

html(`<div class="ylab" style="left:46px;top:131px">Bunch<br>intensity [10<sup>11</sup>p+]</div>`);
html(`<div class="ylab" style="left:50px;top:351px">Bunches</div>`);
html(`<div class="ylab" style="left:70px;top:571px">Bunch length</div>`);
html(`<div class="ylab" style="left:70px;top:871px">Normalized<br>heat load [10<sup>−13</sup> W/p+]</div>`);
html(`<div class="abs" style="left:150px;top:458px;font-size:26px;">1e−9</div>`);
html(`<div class="abs" style="left:738px;top:686px;transform:translate(-50%,-50%);font-size:31px;">End of Squeeze</div>`);
html(`<div class="abs" style="left:738px;top:1093px;transform:translate(-50%,-50%);font-size:27px;">Fill number</div>`);

html(`<div class="abs cal" style="left:316px;top:690px;width:340px;height:90px;border:3px solid #8064a2;background:#fff;
  font-size:28px;line-height:39px;text-align:center;padding-top:6px;color:#000;">Reference for HL-LHC<br>predictions</div>`);
html(`<div class="abs cal" style="left:1133px;top:820px;transform:translate(-50%,-50%) rotate(3deg);font-size:28px;color:#000;">7-12% reduction</div>`);

// Beam legend
html(`<div class="legend" style="left:1360px;top:349px;width:197px;height:89px;"></div>`);
[["Beam 1", BEAM1, 372], ["Beam 2", BEAM2, 413]].forEach(([name, c, y]) => {
  html(`<div class="lg-dot" style="left:1399px;top:${y}px;background:${c};opacity:0.5"></div>`);
  html(`<div class="lg-txt" style="left:1450px;top:${y}px">${name}</div>`);
});

// Sector legend
html(`<div class="legend" style="left:1360px;top:701px;width:150px;height:329px;"></div>`);
sectors.forEach((s, i) => {
  const y = 722 + i * 40.5;
  html(`<div class="lg-dot" style="left:1399px;top:${y}px;background:${sectorColors[i]};opacity:0.9"></div>`);
  html(`<div class="lg-txt" style="left:1450px;top:${y}px">${s}</div>`);
});
</script>
</body>
</html>
